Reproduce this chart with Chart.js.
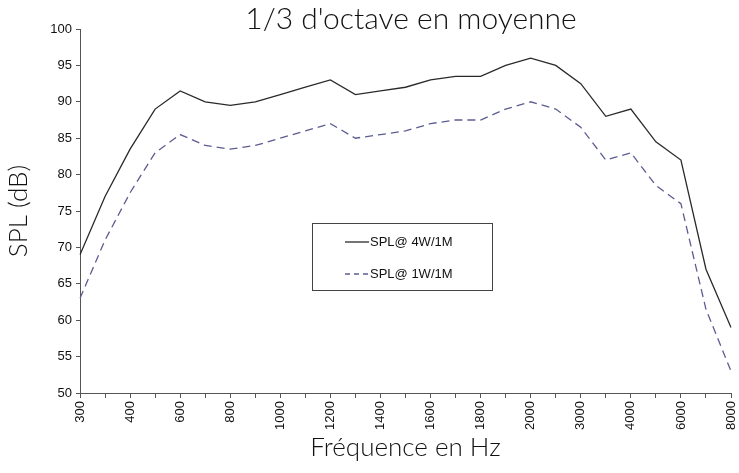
<!DOCTYPE html>
<html>
<head>
<meta charset="utf-8">
<script src="https://cdn.jsdelivr.net/npm/chart.js@4/dist/chart.umd.min.js"></script>
<style>
  html, body { margin: 0; padding: 0; background: #fff; }
  #wrap { width: 739px; height: 473px; position: relative; }
</style>
</head>
<body>
<div id="wrap"><canvas id="spl"></canvas></div>
<script>
// Fréquences (Hz) - une étiquette sur deux est affichée
const frequences = [300, 350, 400, 500, 600, 700, 800, 900, 1000, 1100, 1200, 1300, 1400, 1500,
  1600, 1700, 1800, 1900, 2000, 2500, 3000, 3500, 4000, 5000, 6000, 7000, 8000];

// SPL mesuré (dB)
const spl4W = [69, 77, 83.5, 89, 91.5, 90, 89.5, 90, 91, 92, 93, 91, 91.5, 92,
  93, 93.5, 93.5, 95, 96, 95, 92.5, 88, 89, 84.5, 82, 67, 59];
const spl1W = [63, 71, 77.5, 83, 85.5, 84, 83.5, 84, 85, 86, 87, 85, 85.5, 86,
  87, 87.5, 87.5, 89, 90, 89, 86.5, 82, 83, 78.5, 76, 61.5, 53];

const serieLabels = ["SPL@ 4W/1M", "SPL@ 1W/1M"];
const titre = "1/3 d'octave en moyenne";

const AXE = "#555";
const TICK_FONT = { family: "'Liberation Sans', Arial, sans-serif", size: 13 };
const TITRE_FONT = "Lato, 'Open Sans', sans-serif";

// Titre dessiné au-dessus de la zone du graphique
const titrePlugin = {
  id: "titrePlugin",
  afterDraw(chart) {
    const ctx = chart.ctx;
    const area = chart.chartArea;
    ctx.save();
    ctx.font = "300 30px " + TITRE_FONT;
    ctx.fillStyle = "#111";
    ctx.textAlign = "center";
    ctx.textBaseline = "middle";
    ctx.fillText(titre, 411, 19);
    ctx.restore();
  },
};

// Légende encadrée à l'intérieur du graphique
const legendePlugin = {
  id: "legendePlugin",
  afterDraw(chart) {
    const ctx = chart.ctx;
    const x = 312, y = 223, w = 180, h = 67;
    ctx.save();
    ctx.fillStyle = "#fff";
    ctx.fillRect(x, y, w, h);
    ctx.strokeStyle = "#444";
    ctx.lineWidth = 1;
    ctx.strokeRect(x + 0.5, y + 0.5, w, h);

    chart.data.datasets.forEach((ds, i) => {
      const ly = y + 19 + i * 32;
      ctx.beginPath();
      ctx.strokeStyle = ds.borderColor;
      ctx.lineWidth = ds.borderWidth;
      ctx.setLineDash(ds.borderDash ? [5, 4] : []);
      ctx.moveTo(x + 33, ly);
      ctx.lineTo(x + 57, ly);
      ctx.stroke();
      ctx.setLineDash([]);
      ctx.fillStyle = "#111";
      ctx.font = "13px 'Liberation Sans', Arial, sans-serif";
      ctx.textBaseline = "middle";
      ctx.textAlign = "left";
      ctx.fillText(ds.label, x + 58, ly);
    });
    ctx.restore();
  },
};

const ctx = document.getElementById("spl").getContext("2d");
new Chart(ctx, {
  type: "line",
  data: {
    labels: frequences,
    datasets: [
      {
        label: serieLabels[0],
        data: spl4W,
        borderColor: "#2a2a2a",
        borderWidth: 1.3,
        pointRadius: 0,
        tension: 0,
        fill: false,
      },
      {
        label: serieLabels[1],
        data: spl1W,
        borderColor: "#5c5c92",
        borderWidth: 1.3,
        borderDash: [8, 5],
        pointRadius: 0,
        tension: 0,
        fill: false,
      },
    ],
  },
  options: {
    responsive: true,
    maintainAspectRatio: false,
    animation: false,
    layout: { padding: { top: 29, right: 8, bottom: 0, left: 0 } },
    plugins: {
      legend: { display: false },
      title: { display: false },
      tooltip: { enabled: false },
    },
    scales: {
      x: {
        offset: false,
        afterFit: (s) => {
          s.height = 80;
          s.paddingRight = 0;
          s.paddingLeft = 0;
        },
        border: { color: AXE, width: 1 },
        grid: { display: true, drawOnChartArea: false, drawTicks: true, tickLength: 5, color: AXE },
        ticks: {
          autoSkip: false,
          maxRotation: 90,
          minRotation: 90,
          padding: 3,
          color: "#111",
          font: TICK_FONT,
          callback: (val, i) => (i % 2 === 0 ? frequences[i] : ""),
        },
        title: {
          display: true,
          text: "Fréquence en Hz",
          color: "#111",
          font: { family: TITRE_FONT, size: 26, weight: 300 },
          padding: { top: 0, bottom: 10 },
        },
      },
      y: {
        min: 50,
        max: 100,
        afterFit: (s) => { s.width = 80; },
        border: { color: AXE, width: 1 },
        grid: { display: true, drawOnChartArea: false, drawTicks: true, tickLength: 4, color: AXE },
        ticks: {
          stepSize: 5,
          padding: 4,
          color: "#111",
          font: TICK_FONT,
        },
        title: {
          display: true,
          text: "SPL (dB)",
          color: "#111",
          font: { family: TITRE_FONT, size: 26, weight: 300 },
          padding: { top: 3, bottom: 0 },
        },
      },
    },
  },
  plugins: [titrePlugin, legendePlugin],
});
</script>
</body>
</html>
